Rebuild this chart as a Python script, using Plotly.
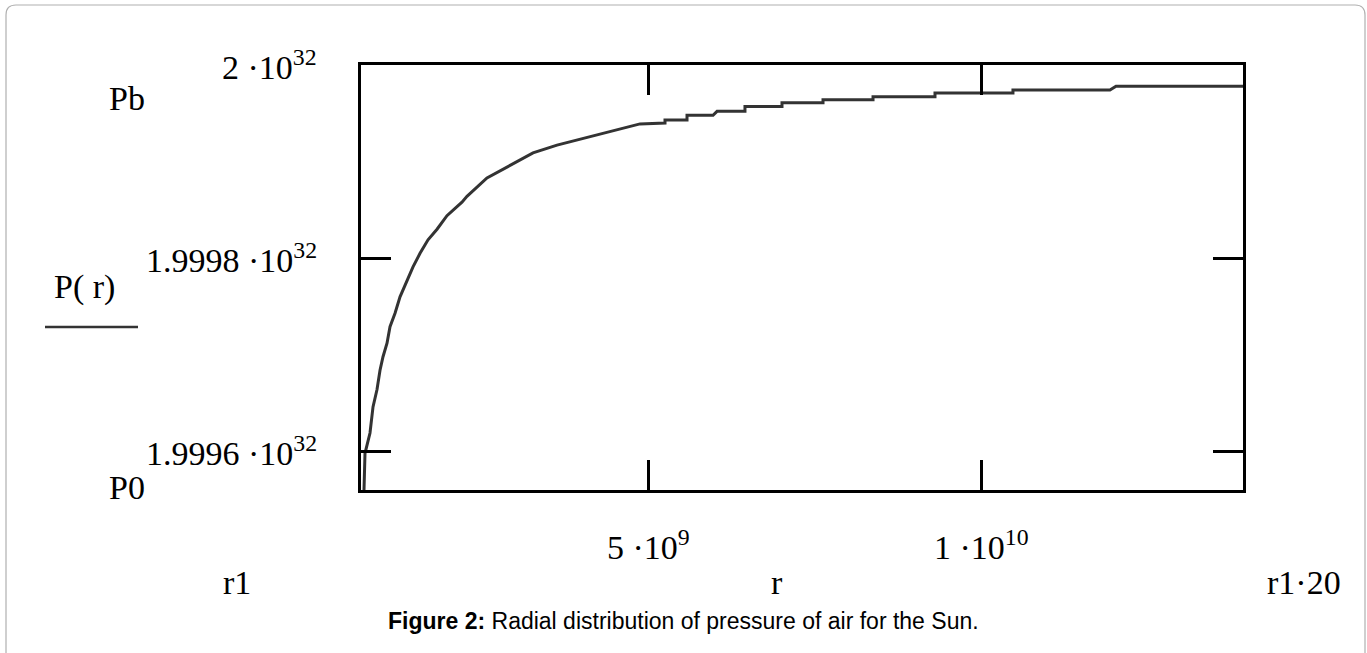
import plotly.graph_objects as go

# ---- data ----
r1 = 6.96e8                      # inner radius
r_max = r1 * 20                  # outer radius
Pb = 2.0e32                      # top of the pressure axis
P0 = 1.99956e32                  # bottom of the pressure axis

# radius in units of 1e9, pressure in units of 1e32
r_1e9 = [0.741, 0.756, 0.831, 0.876, 0.936, 0.981, 1.026, 1.086, 1.131, 1.206,
         1.281, 1.386, 1.476, 1.581, 1.701, 1.836, 1.985, 2.210, 2.285, 2.585,
         2.930, 3.275, 3.635, 4.024, 4.534, 4.879,
         5.254, 5.254, 5.584, 5.584, 5.974, 6.034, 6.453, 6.453, 7.008, 7.008,
         7.623, 7.623, 8.373, 8.373, 9.302, 9.302, 10.471, 10.471, 11.925,
         12.016, 13.920]
P_1e32 = [1.999560, 1.999598, 1.999619, 1.999646, 1.999664, 1.999684, 1.999698,
          1.999712, 1.999729, 1.999743, 1.999760, 1.999777, 1.999791, 1.999805,
          1.999819, 1.999830, 1.999844, 1.999858, 1.999864, 1.999883, 1.999896,
          1.999909, 1.999917, 1.999924, 1.999933, 1.999939,
          1.999940, 1.999943, 1.999943, 1.999948, 1.999948, 1.999952, 1.999952,
          1.999957, 1.999957, 1.999961, 1.999961, 1.999964, 1.999964, 1.999967,
          1.999967, 1.999971, 1.999971, 1.999974, 1.999974, 1.999978, 1.999978]

x_tick_vals = [5e9, 1e10]
x_tick_text = ["5 \u00b710<sup>9</sup>", "1 \u00b710<sup>10</sup>"]
y_tick_vals = [1.9996e32, 1.9998e32]
y_label_vals = [1.9996e32, 1.9998e32, 2.0e32]
y_label_text = ["1.9996 \u00b710<sup>32</sup>", "1.9998 \u00b710<sup>32</sup>",
                "2 \u00b710<sup>32</sup>"]

r_vals = [v * 1e9 for v in r_1e9]
P_vals = [v * 1e32 for v in P_1e32]

# ---- layout helpers (screen pixel -> paper) ----
W, H = 1367, 653
L, R, T, B = 361, 1243, 65, 490


def px(x):
    return (x - L) / (R - L)


def py(y):
    return (B - y) / (B - T)


SERIF = "Liberation Serif, Times New Roman, serif"
SANS = "Liberation Sans, Arial, sans-serif"
TXT = dict(family=SERIF, size=34, color="black")

fig = go.Figure()
fig.add_trace(go.Scatter(x=r_vals, y=P_vals, mode="lines",
                         line=dict(color="#333333", width=3),
                         hoverinfo="skip", showlegend=False))

ann = []
# y tick labels
for v, t in zip(y_label_vals, y_label_text):
    ann.append(dict(x=px(319), xref="paper", y=v, yref="y", text=t,
                    xanchor="right", yanchor="middle", showarrow=False, font=TXT))
# x tick labels
for v, t in zip(x_tick_vals, x_tick_text):
    ann.append(dict(x=v, xref="x", y=py(545), yref="paper", text=t,
                    xanchor="center", yanchor="middle", showarrow=False, font=TXT))
# other Mathcad-style labels
for txt, x, y in [("Pb", 127, 98), ("P0", 127, 487), ("P( r)", 84, 287),
                  ("r1", 237, 582), ("r", 777, 582), ("r1\u00b720", 1304, 582)]:
    ann.append(dict(x=px(x), xref="paper", y=py(y), yref="paper", text=txt,
                    xanchor="center", yanchor="middle", showarrow=False, font=TXT))
# caption
ann.append(dict(x=px(683), xref="paper", y=py(621), yref="paper",
                text="<b>Figure 2:</b> Radial distribution of pressure of air for the Sun.",
                xanchor="center", yanchor="middle", showarrow=False,
                font=dict(family=SANS, size=23, color="black")))

# border with rounded top corners
bx0, bx1, by0, by1, rad = 6, 1365, 5, 660, 10
border_path = (f"M {px(bx0)},{py(by1)} L {px(bx0)},{py(by0 + rad)} "
               f"Q {px(bx0)},{py(by0)} {px(bx0 + rad)},{py(by0)} "
               f"L {px(bx1 - rad)},{py(by0)} "
               f"Q {px(bx1)},{py(by0)} {px(bx1)},{py(by0 + rad)} "
               f"L {px(bx1)},{py(by1)}")
shapes = [
    dict(type="path", xref="paper", yref="paper", path=border_path,
         line=dict(color="#b0b0b0", width=1.2)),
    dict(type="line", xref="paper", yref="paper", x0=px(45), x1=px(138),
         y0=py(327), y1=py(327), line=dict(color="#333333", width=2.5)),
]

fig.update_layout(
    width=W, height=H,
    margin=dict(l=L, r=W - R, t=T, b=H - B),
    paper_bgcolor="white", plot_bgcolor="white",
    annotations=ann, shapes=shapes,
    xaxis=dict(range=[r1, r_max], showgrid=False, zeroline=False,
               showline=True, linecolor="black", linewidth=3, mirror="allticks",
               ticks="inside", ticklen=30, tickwidth=3, tickcolor="black",
               tickvals=x_tick_vals, showticklabels=False),
    yaxis=dict(range=[P0, Pb], showgrid=False, zeroline=False,
               showline=True, linecolor="black", linewidth=3, mirror="allticks",
               ticks="inside", ticklen=30, tickwidth=3, tickcolor="black",
               tickvals=y_tick_vals, showticklabels=False),
)

fig.write_html(
    "out.html",
    config={"displayModeBar": False},
    post_script="document.body.style.margin='0';document.body.style.overflow='hidden';",
)
